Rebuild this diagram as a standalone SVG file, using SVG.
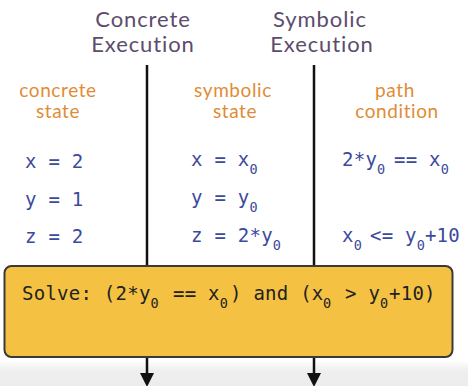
<svg xmlns="http://www.w3.org/2000/svg" width="468" height="386" viewBox="0 0 468 386">
  <defs>
    <style>
      .head { font-family: Lato, "Open Sans", sans-serif; font-size: 22px; letter-spacing: 0.9px; fill: #5c4d6c; text-anchor: middle; }
      .lab { font-family: Lato, "Open Sans", sans-serif; font-size: 19px; letter-spacing: 0.6px; fill: #e08c36; text-anchor: middle; }
      .mono { font-family: "DejaVu Sans Mono", "Liberation Mono", monospace; font-size: 19px; letter-spacing: 0.25px; }
      .blue { fill: #3b4a9c; }
      .dark { fill: #222222; }
      .sub { font-size: 13.5px; letter-spacing: 0px; }
      .conn { stroke: #111111; stroke-width: 2.5; fill: none; }
    </style>
    <marker id="arrow" markerWidth="14" markerHeight="14" refX="0" refY="7" orient="auto" markerUnits="userSpaceOnUse">
      <path d="M0,0 L14,7 L0,14 z" fill="#111111"/>
    </marker>
    <linearGradient id="bottomShade" x1="0" y1="0" x2="0" y2="1">
      <stop offset="0" stop-color="#ffffff"/>
      <stop offset="0.4" stop-color="#efefef"/>
      <stop offset="1" stop-color="#ececec"/>
    </linearGradient>
  </defs>

  <rect x="0" y="0" width="468" height="386" fill="#ffffff"/>
  <rect x="0" y="360" width="468" height="26" fill="url(#bottomShade)"/>

  <g id="connectors">
    <line class="conn" x1="147" y1="65" x2="147" y2="373" marker-end="url(#arrow)"/>
    <line class="conn" x1="314" y1="65" x2="314" y2="373" marker-end="url(#arrow)"/>
  </g>

  <g id="header-concrete">
    <text class="head" x="143" y="27">Concrete</text>
    <text class="head" x="143" y="52">Execution</text>
  </g>
  <g id="header-symbolic">
    <text class="head" x="320" y="27">Symbolic</text>
    <text class="head" x="322" y="52">Execution</text>
  </g>

  <g id="concrete-state">
    <text class="lab" x="58" y="97">concrete</text>
    <text class="lab" x="58" y="118">state</text>
    <text class="mono blue" x="25" y="168">x = 2</text>
    <text class="mono blue" x="25" y="206">y = 1</text>
    <text class="mono blue" x="25" y="243">z = 2</text>
  </g>

  <g id="symbolic-state">
    <text class="lab" x="233" y="97">symbolic</text>
    <text class="lab" x="235" y="118">state</text>
    <text class="mono blue" x="191" y="166">x = x<tspan class="sub" dy="8">0</tspan></text>
    <text class="mono blue" x="191" y="204">y = y<tspan class="sub" dy="8">0</tspan></text>
    <text class="mono blue" x="191" y="242">z = 2*y<tspan class="sub" dy="8">0</tspan></text>
  </g>

  <g id="path-condition">
    <text class="lab" x="395" y="97">path</text>
    <text class="lab" x="397" y="118">condition</text>
    <text class="mono blue" x="342" y="166">2*y<tspan class="sub" dy="8">0</tspan><tspan x="394" dy="-8">== x</tspan><tspan class="sub" dy="8">0</tspan></text>
    <text class="mono blue" x="342" y="242">x<tspan class="sub" dy="8">0</tspan><tspan x="370" dy="-8">&lt;= y</tspan><tspan class="sub" dy="8">0</tspan><tspan dy="-8">+10</tspan></text>
  </g>

  <g id="solve-box">
    <rect x="4.5" y="266" width="448" height="91" rx="7" ry="7" fill="#f5c143" stroke="#3a3a3a" stroke-width="2"/>
    <text class="mono dark" x="22" y="300">Solve: (2*y<tspan class="sub" dy="8">0</tspan><tspan x="173" dy="-8">== x</tspan><tspan class="sub" dy="8">0</tspan><tspan x="230" dy="-8">) and (x</tspan><tspan class="sub" x="323" dy="8">0</tspan><tspan x="345" dy="-8">&gt; y</tspan><tspan class="sub" x="380" dy="8">0</tspan><tspan x="389" dy="-8">+10)</tspan></text>
  </g>
</svg>
